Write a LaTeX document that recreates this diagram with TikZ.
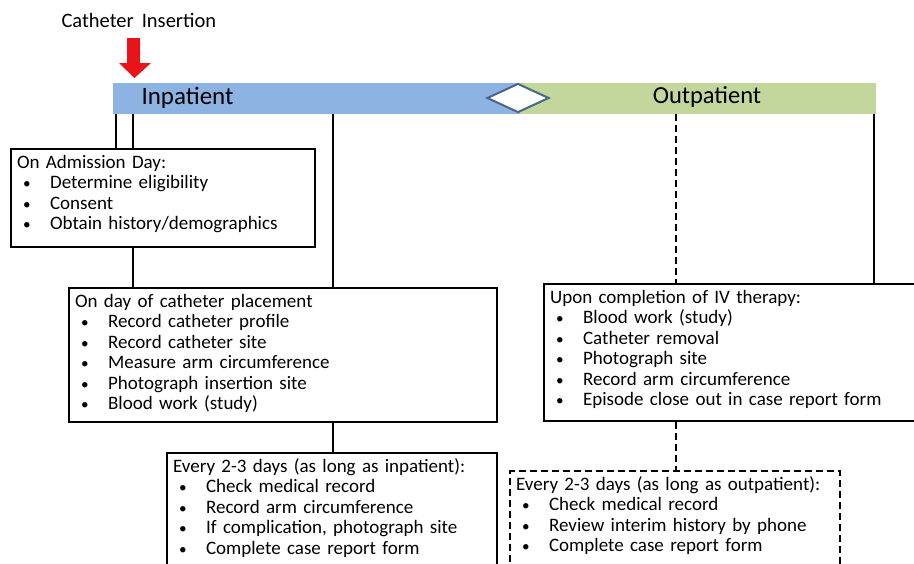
\documentclass[tikz,border=0pt]{standalone}
\usepackage{fontspec}
\setmainfont{Carlito}
\usetikzlibrary{shapes.geometric}
\definecolor{inblue}{HTML}{8DB3E2}
\definecolor{outgreen}{HTML}{C3D69B}
\definecolor{diamedge}{HTML}{4A6685}
\definecolor{insred}{HTML}{E8141A}
\newcommand{\itm}[1]{\\\hspace*{6pt}\makebox[27pt][l]{\scalebox{0.8}{\textbullet}}#1}
\tikzset{
  stagebox/.style={draw, line width=2.2pt, anchor=north west, align=left,
    inner xsep=6pt, inner ysep=5pt, text height=14pt,
    font=\fontsize{19}{20.5}\selectfont},
  phasebar/.style={inner sep=0pt, minimum height=31pt, anchor=north west},
  link/.style={line width=2.5pt},
  dashlink/.style={line width=2.5pt, dash pattern=on 7pt off 4pt},
}

\begin{document}
\begin{tikzpicture}[x=1pt,y=-1pt]
    \useasboundingbox (0,0) rectangle (914,563);

    % phase bars
    \node[phasebar, fill=inblue, minimum width=407pt] (inbar) at (113,83) {};
    \node[phasebar, fill=outgreen, minimum width=356pt] (outbar) at (520,83) {};
    \node[font=\fontsize{25}{28}\selectfont, anchor=west] (inlabel) at (138,98) {Inpatient};
    \node[font=\fontsize{24.5}{28}\selectfont] (outlabel) at (707,97) {Outpatient};
    \node[diamond, draw=diamedge, fill=white, line width=2pt, inner sep=0pt,
      minimum width=62pt, minimum height=29pt] (switch) at (518,98) {};

    % insertion marker
    \node[font=\fontsize{20.5}{23}\selectfont, anchor=west] (instext) at (58,20) {Catheter\hspace{8pt}Insertion};
    \fill[insred] (127,38) -- (140,38) -- (140,63) -- (151,63) -- (134.5,78)
        -- (119,63) -- (127,63) -- cycle;

    % stages
    \node[stagebox, text width=292pt, text depth=73.5pt] (adm) at (10,148)
        {On Admission Day:\itm{Determine eligibility}\itm{Consent}\itm{Obtain history/demographics}};
    \node[stagebox, text width=416pt, text depth=109.5pt] (place) at (68,287)
        {On day of catheter placement\itm{Record catheter profile}\itm{Record catheter site}%
         \itm{Measure arm circumference}\itm{Photograph insertion site}\itm{Blood work (study)}};
    \node[stagebox, text width=318pt, text depth=122pt] (every) at (166,452)
        {Every 2-3 days (as long as inpatient):\itm{Check medical record}\itm{Record arm circumference}%
         \itm{If complication, photograph site}\itm{Complete case report form}};
    \node[stagebox, text width=400pt, text depth=112.5pt] (ivdone) at (543,283)
        {Upon completion of IV therapy:\itm{Blood work (study)}\itm{Catheter removal}%
         \itm{Photograph site}\itm{Record arm circumference}\itm{Episode close out in case report form}};
    \node[stagebox, dash pattern=on 7pt off 4pt, text width=318pt, text depth=101.5pt] (everyout) at (509,470)
        {Every 2-3 days (as long as outpatient):\itm{Check medical record}%
         \itm{Review interim history by phone}\itm{Complete case report form}};

    % connectors
    \coordinate (c1) at (116,0);
    \coordinate (c2) at (133,0);
    \coordinate (c3) at (333,0);
    \coordinate (c4) at (676,0);
    \coordinate (c5) at (874,0);
    \foreach \c/\b in {c1/adm, c2/adm, c3/place, c5/ivdone}
        \draw[link] (inbar.south -| \c) -- (\b.north -| \c);
    \draw[dashlink] (inbar.south -| c4) -- (ivdone.north -| c4);
    \draw[link] (adm.south -| c2) -- (place.north -| c2);
    \draw[link] (place.south -| c3) -- (every.north -| c3);
    \draw[dashlink] (ivdone.south -| c4) -- (everyout.north -| c4);
\end{tikzpicture}
\end{document}
